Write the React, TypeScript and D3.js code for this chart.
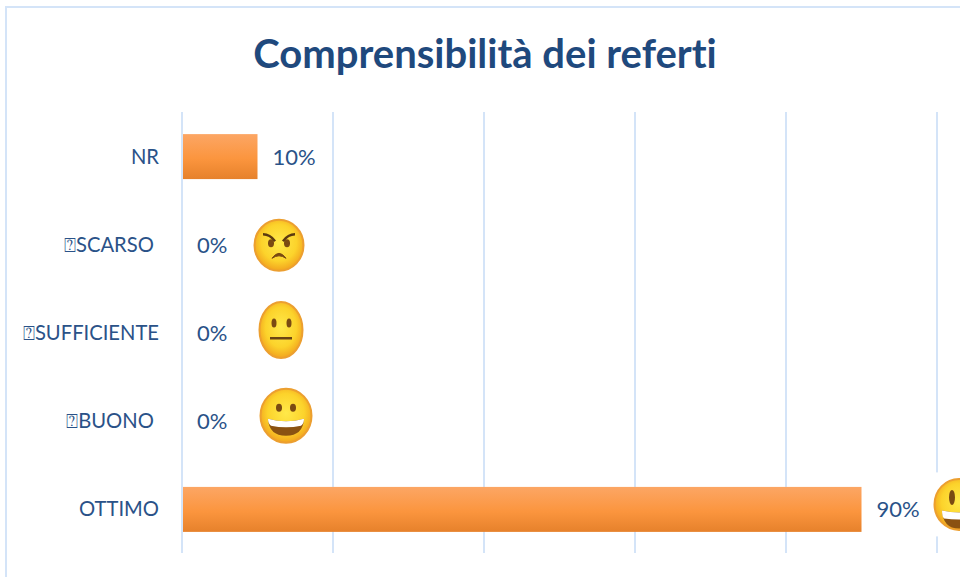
import React from 'react';
import * as d3 from 'd3';

const categories = ['NR', '⍰SCARSO ', '⍰SUFFICIENTE', '⍰BUONO ', 'OTTIMO'];
const values = [0.1, 0, 0, 0, 0.9];
const valueLabels = ['10%', '0%', '0%', '0%', '90%'];
const faces = [null, 'angry', 'neutral', 'smile', 'laugh'];
const gridTicks = [0, 0.2, 0.4, 0.6, 0.8, 1];
const title = 'Comprensibilità dei referti';

const width = 960;
const height = 577;
const textColor = '#2a5288';
const gridColor = '#d4e4f8';

const x = d3.scaleLinear().domain([0, 1]).range([182, 937]);
const y = d3.scaleBand().domain(categories).range([112.5, 553.5]).paddingInner(0.49).paddingOuter(0.245);

// offset of each face from the end of its bar
const faceShape: any = {
  angry: { dx: 97, dy: 0.5, rx: 24.5, ry: 25.5, px: 31, py: 30 },
  neutral: { dx: 99, dy: -3, rx: 21.5, ry: 28, px: 30, py: 31 },
  smile: { dx: 104, dy: -5.5, rx: 25.5, ry: 27, px: 29, py: 32 },
  laugh: { dx: 97.5, dy: -5, rx: 24.5, ry: 25.5, px: 27, py: 32 },
};

function Face({ kind, cx, cy }: any) {
  const s = faceShape[kind];
  const brown = '#7a4a12';
  return (
    <g transform={`translate(${cx},${cy})`}>
      <rect x={-s.px} y={-s.py} width={s.px * 2} height={s.py * 2} fill="#fff" />
      <ellipse rx={s.rx} ry={s.ry} fill="url(#faceFill)" stroke="#ec9f30" strokeWidth={2} />
      {kind === 'angry' && (
        <g>
          <path d="M-16,-11 Q-9,-11 -4,-4" stroke="#5c3a10" strokeWidth={2.5} fill="none" />
          <path d="M16,-11 Q9,-11 4,-4" stroke="#5c3a10" strokeWidth={2.5} fill="none" />
          <ellipse cx={-8} cy={-2} rx={3} ry={4} fill={brown} />
          <ellipse cx={8} cy={-2} rx={3} ry={4} fill={brown} />
          <path d="M-7,13 Q0,3 7,13 Q0,8 -7,13 Z" fill={brown} stroke={brown} strokeWidth={1} />
        </g>
      )}
      {kind === 'neutral' && (
        <g>
          <ellipse cx={-7} cy={-7} rx={2.5} ry={4.5} fill={brown} />
          <ellipse cx={8} cy={-7} rx={2.5} ry={4.5} fill={brown} />
          <rect x={-11} y={7} width={22} height={2.5} fill="#6b4513" />
        </g>
      )}
      {kind === 'smile' && (
        <g>
          <ellipse cx={-7} cy={-8} rx={3} ry={4} fill={brown} />
          <ellipse cx={7} cy={-8} rx={3} ry={4} fill={brown} />
          <path d="M-18,3 Q0,8 18,3 Q17,20 0,20 Q-17,20 -18,3 Z" fill="#8a5212" />
          <path d="M-18,3 Q0,8 18,3 Q18,8 15,10 Q0,13 -15,10 Q-18,8 -18,3 Z" fill="#fff" />
        </g>
      )}
      {kind === 'laugh' && (
        <g>
          <ellipse cx={-7} cy={-7} rx={3} ry={7.5} fill={brown} />
          <ellipse cx={7} cy={-7} rx={3} ry={7.5} fill={brown} />
          <path d="M-17,6 Q0,10 17,6 Q16,24 0,24 Q-16,24 -17,6 Z" fill="#8a5212" />
          <path d="M-17,6 Q0,10 17,6 Q17,12 15,14 Q0,16 -15,14 Q-17,12 -17,6 Z" fill="#fff" />
        </g>
      )}
    </g>
  );
}

export default function App() {
  return (
    <svg
      width={width}
      height={height}
      viewBox={`0 0 ${width} ${height}`}
      style={{ position: 'absolute', left: 0, top: 0, background: '#fff', fontFamily: 'Lato, sans-serif', fontVariantLigatures: 'none' }}
    >
      <defs>
        <linearGradient id="barFill" x1="0" y1="0" x2="0" y2="1">
          <stop offset="0" stopColor="#fca664" />
          <stop offset="0.55" stopColor="#fb953e" />
          <stop offset="1" stopColor="#e6812b" />
        </linearGradient>
        <radialGradient id="faceFill" cx="0.5" cy="0.45" r="0.55">
          <stop offset="0" stopColor="#ffe94a" />
          <stop offset="0.65" stopColor="#fcd32b" />
          <stop offset="1" stopColor="#f2a41e" />
        </radialGradient>
      </defs>

      <path d={`M6,${height} V7 H${width}`} fill="none" stroke={gridColor} strokeWidth={2} />

      <text x={485} y={68} textAnchor="middle" fontSize={40} fontWeight={700} fill="#1f497d">
        {title}
      </text>

      {gridTicks.map((t) => (
        <line key={t} x1={x(t)} x2={x(t)} y1={112} y2={553} stroke={gridColor} strokeWidth={2} />
      ))}

      {categories.map((c, i) => {
        const top = y(c) as number;
        const mid = top + y.bandwidth() / 2;
        return (
          <g key={c}>
            <text x={159} y={mid + 7} textAnchor="end" fontSize={20.2} fill={textColor} style={{ whiteSpace: 'pre' }}>
              {c}
            </text>
            {values[i] > 0 && (
              <rect x={x(0) + 1} y={top} width={x(values[i]) - x(0) - 1} height={y.bandwidth()} fill="url(#barFill)" />
            )}
            <text x={x(values[i]) + 15} y={mid + 8} fontSize={22} fill={textColor}>
              {valueLabels[i]}
            </text>
            {faces[i] && (
              <Face kind={faces[i]} cx={x(values[i]) + faceShape[faces[i] as string].dx} cy={mid + faceShape[faces[i] as string].dy} />
            )}
          </g>
        );
      })}
    </svg>
  );
}
